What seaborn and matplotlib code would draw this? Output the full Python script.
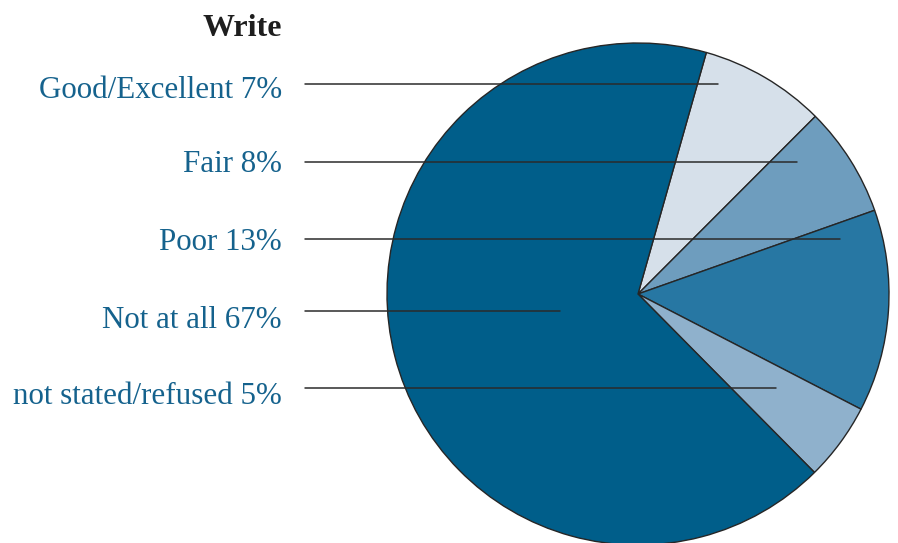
import numpy as np
import matplotlib
matplotlib.use('Agg')
import matplotlib.pyplot as plt
import seaborn as sns

# slice shares in drawing order (clockwise from the top)
slices = ['Good/Excellent', 'Fair', 'Poor', 'not stated/refused', 'Not at all']
shares = [8.1, 7.1, 13.0, 5.0, 66.8]
colors = ['#d6e0ea', '#6e9dbe', '#2777a3', '#8fb1cc', '#005e8a']

# labels as printed, top to bottom
label_names = ['Good/Excellent', 'Fair', 'Poor', 'Not at all', 'not stated/refused']
label_pct = [7, 8, 13, 67, 5]

sns.set_theme(style='white')
plt.rcParams['font.family'] = ['Liberation Serif', 'DejaVu Serif']

W, H = 898, 543
fig = plt.figure(figsize=(W / 100, H / 100), dpi=100)
ax = fig.add_axes([0, 0, 1, 1])

# pie (pixel coords, y measured from top)
cx, cy, r = 638, 294, 251
ax.pie(shares, colors=colors, startangle=74.2, counterclock=False,
       center=(cx, H - cy), radius=r,
       wedgeprops=dict(edgecolor='#262626', linewidth=1.0))

# label rows and leader lines
text_y = [90, 165, 242, 320, 396]
line_y = [84, 162, 239, 311, 388]
line_end = [718, 797, 840, 560, 776]
for name, pct, ty, ly, lx in zip(label_names, label_pct, text_y, line_y, line_end):
    ax.text(282, H - ty, f'{name} {pct}%', ha='right', va='center',
            fontsize=22.3, color='#15628d')
    ax.plot([305, lx], [H - ly, H - ly], color='#2b2b2b', lw=1.1)

ax.text(282, H - 29, 'Write', ha='right', va='center', fontsize=23,
        fontweight='bold', color='#1e1e1e')

ax.set_xlim(0, W)
ax.set_ylim(0, H)
ax.set_aspect('equal')
ax.axis('off')

fig.savefig('out.png', dpi=100)
